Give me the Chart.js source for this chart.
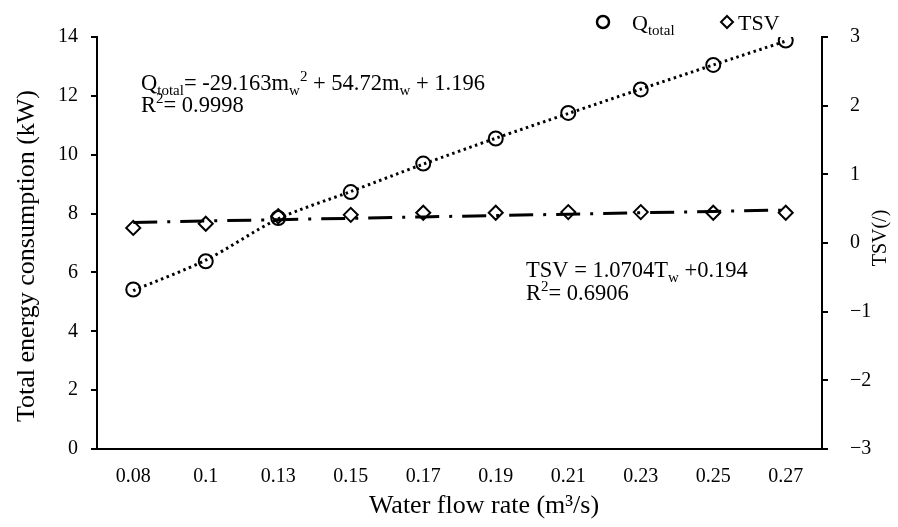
<!DOCTYPE html>
<html>
<head>
<meta charset="utf-8">
<script src="https://cdn.jsdelivr.net/npm/chart.js@4.4.1/dist/chart.umd.min.js"></script>
<style>
    html, body { margin: 0; padding: 0; background: #fff; }
    #wrap { width: 898px; height: 527px; }
</style>
</head>
<body>
<div id="wrap"><canvas id="chart" width="898" height="527"></canvas></div>
<script>
// Datos
const flowRates = ['0.08', '0.1', '0.13', '0.15', '0.17', '0.19', '0.21', '0.23', '0.25', '0.27'];
const qTotal = [5.42, 6.38, 7.85, 8.73, 9.70, 10.55, 11.42, 12.22, 13.05, 13.88];
const qTrend = [5.38, 6.42, 7.82, 8.75, 9.68, 10.56, 11.40, 12.23, 13.05, 13.86];
const tsv = [0.22, 0.28, 0.39, 0.41, 0.44, 0.44, 0.45, 0.45, 0.44, 0.44];
const tsvTrend = [0.30, 0.32, 0.34, 0.36, 0.38, 0.40, 0.42, 0.44, 0.46, 0.48];
const leftTicks = [0, 2, 4, 6, 8, 10, 12, 14];
const rightTicks = [-3, -2, -1, 0, 1, 2, 3];

const FONT = '"Liberation Serif", "Times New Roman", serif';

// Dibuja texto con subindices / superindices
function drawRich(ctx, x, y, parts, size) {
    let cx = x;
    parts.forEach(p => {
        const kind = p[1] || 'n';
        const s = kind === 'n' ? size : Math.round(size * 0.68);
        const dy = kind === 'sub' ? size * 0.22 : (kind === 'sup' ? -size * 0.38 : 0);
        ctx.font = s + 'px ' + FONT;
        ctx.fillText(p[0], cx, y + dy);
        cx += ctx.measureText(p[0]).width;
    });
}

function drawRotated(ctx, text, x, y, size) {
    ctx.save();
    ctx.translate(x, y);
    ctx.rotate(-Math.PI / 2);
    ctx.textAlign = 'center';
    ctx.textBaseline = 'alphabetic';
    ctx.font = size + 'px ' + FONT;
    ctx.fillText(text, 0, 0);
    ctx.restore();
}

const annotations = {
    id: 'annotations',
    afterDraw(chart) {
        const ctx = chart.ctx;
        ctx.save();
        ctx.fillStyle = '#000';
        ctx.textAlign = 'left';
        ctx.textBaseline = 'alphabetic';

        // Ecuaciones
        drawRich(ctx, 141, 90, [['Q'], ['total', 'sub'], ['= -29.163m'], ['w', 'sub'], ['2', 'sup'], [' + 54.72m'], ['w', 'sub'], [' + 1.196']], 22.5);
        drawRich(ctx, 141, 112, [['R'], ['2', 'sup'], ['= 0.9998']], 22.5);
        drawRich(ctx, 526, 277, [['TSV = 1.0704T'], ['w', 'sub'], [' +0.194']], 22.5);
        drawRich(ctx, 526, 300, [['R'], ['2', 'sup'], ['= 0.6906']], 22.5);

        // Leyenda
        ctx.strokeStyle = '#000';
        ctx.lineWidth = 2.5;
        ctx.beginPath();
        ctx.arc(603, 22, 6, 0, Math.PI * 2);
        ctx.stroke();
        drawRich(ctx, 632, 30, [['Q'], ['total', 'sub']], 22);
        ctx.lineWidth = 2;
        ctx.beginPath();
        ctx.moveTo(727, 16); ctx.lineTo(733, 22); ctx.lineTo(727, 28); ctx.lineTo(721, 22); ctx.closePath();
        ctx.stroke();
        ctx.font = '22px ' + FONT;
        ctx.fillText('TSV', 738, 30);

        // Titulos de ejes
        ctx.textAlign = 'center';
        ctx.font = '26px ' + FONT;
        ctx.fillText('Water flow rate (m³/s)', 484, 513);
        drawRotated(ctx, 'Total energy consumption (kW)', 34, 256, 26);
        drawRotated(ctx, 'TSV(/)', 886, 238, 20);
        ctx.restore();
    }
};

new Chart(document.getElementById('chart'), {
    type: 'line',
    data: {
        labels: flowRates,
        datasets: [
            {
                label: 'Q trend',
                data: qTrend,
                yAxisID: 'y',
                borderColor: '#000',
                borderWidth: 3,
                borderDash: [2.5, 3.5],
                pointRadius: 0,
                tension: 0.3,
                fill: false
            },
            {
                label: 'TSV trend',
                data: tsvTrend,
                yAxisID: 'y1',
                borderColor: '#000',
                borderWidth: 3,
                borderDash: [24, 10, 3, 10],
                pointRadius: 0,
                fill: false
            },
            {
                label: 'Qtotal',
                data: qTotal,
                yAxisID: 'y',
                showLine: false,
                pointStyle: 'circle',
                pointRadius: 7,
                pointBorderWidth: 2,
                pointBorderColor: '#000',
                pointBackgroundColor: 'rgba(0,0,0,0)'
            },
            {
                label: 'TSV',
                data: tsv,
                yAxisID: 'y1',
                showLine: false,
                pointStyle: 'rectRot',
                pointRadius: 7,
                pointBorderWidth: 2,
                pointBorderColor: '#000',
                pointBackgroundColor: 'rgba(0,0,0,0)'
            }
        ]
    },
    options: {
        responsive: false,
        animation: false,
        layout: { padding: { top: 37, left: 0, right: 0, bottom: 0 } },
        plugins: {
            legend: { display: false },
            tooltip: { enabled: false }
        },
        scales: {
            x: {
                offset: true,
                grid: { display: false },
                border: { display: true, color: '#000', width: 2 },
                ticks: { color: '#000', font: { family: FONT, size: 20 }, padding: 8, maxRotation: 0 },
                afterFit(scale) { scale.height = 78; }
            },
            y: {
                position: 'left',
                min: 0,
                max: 14,
                afterBuildTicks(scale) { scale.ticks = leftTicks.map(v => ({ value: v })); },
                grid: { drawOnChartArea: false, tickLength: 6, color: '#000', lineWidth: 2 },
                border: { display: true, color: '#000', width: 2 },
                ticks: { color: '#000', font: { family: FONT, size: 20 }, padding: 13 },
                afterFit(scale) { scale.width = 97; }
            },
            y1: {
                position: 'right',
                min: -3,
                max: 3,
                afterBuildTicks(scale) { scale.ticks = rightTicks.map(v => ({ value: v })); },
                grid: { drawOnChartArea: false, tickLength: 6, color: '#000', lineWidth: 2 },
                border: { display: true, color: '#000', width: 2 },
                ticks: {
                    color: '#000',
                    font: { family: FONT, size: 20 },
                    padding: 22,
                    callback: v => String(v).replace('-', '\u2212')
                },
                afterFit(scale) { scale.width = 76; }
            }
        }
    },
    plugins: [annotations]
});
</script>
</body>
</html>
